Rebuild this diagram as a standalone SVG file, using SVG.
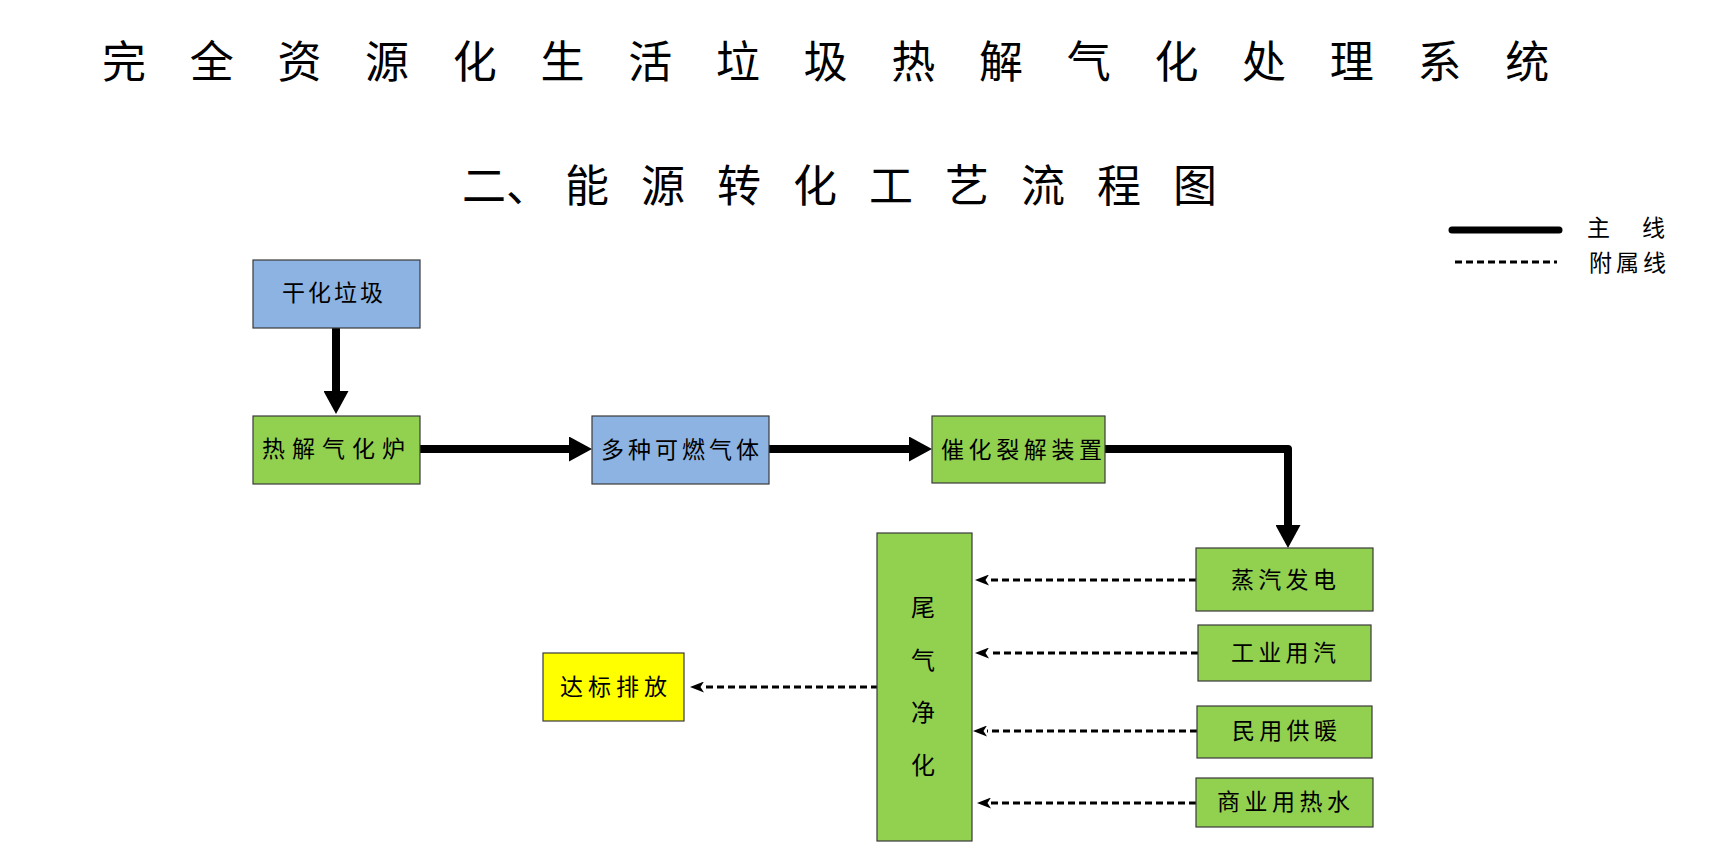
<svg xmlns="http://www.w3.org/2000/svg" width="1720" height="849" viewBox="0 0 1720 849">
<style>
text{font-family:"Liberation Sans","Noto Sans CJK SC",sans-serif;fill:#000;}
.title{font-size:44px;}
.lbl{font-size:23px;}
.box{stroke:#3a3a3a;stroke-width:1.2;}
.blue{fill:#8DB3E2;}
.green{fill:#92D050;}
.yellow{fill:#FFFF00;}
.main{fill:none;stroke:#000;stroke-width:8;stroke-linecap:round;stroke-linejoin:round;}
.aux{fill:none;stroke:#000;stroke-width:3;stroke-dasharray:7 4;}
</style>
<defs>
<marker id="big" viewBox="0 0 23 25" refX="0" refY="12.5" markerWidth="23" markerHeight="25" markerUnits="userSpaceOnUse" orient="auto">
<path d="M0,0 L23,12.5 L0,25 z" fill="#000"/>
</marker>
<marker id="small" viewBox="0 0 14 11" refX="0" refY="5.5" markerWidth="14" markerHeight="11" markerUnits="userSpaceOnUse" orient="auto">
<path d="M0,0 L14,5.5 L0,11 L3.5,5.5 z" fill="#000"/>
</marker>
</defs>
<rect width="1720" height="849" fill="#fff"/>

<g id="title">
<text class="title" x="102" y="78" letter-spacing="43.7">完全资源化生活垃圾热解气化处理系统</text>
<text class="title" x="462" y="202">二、<tspan x="565" letter-spacing="32">能源转化工艺流程图</tspan></text>
</g>

<g id="legend">
<line x1="1452" y1="230" x2="1559" y2="230" stroke="#000" stroke-width="7" stroke-linecap="round"/>
<line x1="1455" y1="262" x2="1557" y2="262" stroke="#000" stroke-width="3" stroke-dasharray="7 4"/>
<text class="lbl" x="1587" y="236">主</text>
<text class="lbl" x="1642" y="236">线</text>
<text class="lbl" x="1589" y="271" letter-spacing="4">附属线</text>
</g>

<g id="connectors">
<path class="main" d="M336,329 L336,391" marker-end="url(#big)"/>
<path class="main" d="M419,449 L569,449" marker-end="url(#big)"/>
<path class="main" d="M769,449 L909,449" marker-end="url(#big)"/>
<path class="main" d="M1105,449 L1288,449 L1288,525" marker-end="url(#big)"/>
<path class="aux" d="M1196,580 L989,580" marker-end="url(#small)"/>
<path class="aux" d="M1198,653 L989,653" marker-end="url(#small)"/>
<path class="aux" d="M1197,731 L987,731" marker-end="url(#small)"/>
<path class="aux" d="M1196,803 L991,803" marker-end="url(#small)"/>
<path class="aux" d="M878,687 L704,687" marker-end="url(#small)"/>
</g>

<g id="node-ganhua">
<rect class="box blue" x="253" y="260" width="167" height="68"/>
<text class="lbl" x="282" y="301" letter-spacing="3">干化垃圾</text>
</g>
<g id="node-rejie">
<rect class="box green" x="253" y="416" width="167" height="68"/>
<text class="lbl" x="262" y="457" letter-spacing="7">热解气化炉</text>
</g>
<g id="node-kerangas">
<rect class="box blue" x="592" y="416" width="177" height="68"/>
<text class="lbl" x="601" y="458" letter-spacing="4">多种可燃气体</text>
</g>
<g id="node-cuihua">
<rect class="box green" x="932" y="416" width="173" height="67"/>
<text class="lbl" x="941" y="458" letter-spacing="4.6">催化裂解装置</text>
</g>
<g id="node-weiqi">
<rect class="box green" x="877" y="533" width="95" height="308"/>
<text x="923" y="616" font-size="24" text-anchor="middle">尾</text>
<text x="923" y="669" font-size="24" text-anchor="middle">气</text>
<text x="923" y="721" font-size="24" text-anchor="middle">净</text>
<text x="923" y="774" font-size="24" text-anchor="middle">化</text>
</g>
<g id="node-zhengqi">
<rect class="box green" x="1196" y="548" width="177" height="63"/>
<text class="lbl" x="1231" y="588" letter-spacing="4.3">蒸汽发电</text>
</g>
<g id="node-gongye">
<rect class="box green" x="1198" y="625" width="173" height="56"/>
<text class="lbl" x="1231" y="661" letter-spacing="4.3">工业用汽</text>
</g>
<g id="node-minyong">
<rect class="box green" x="1197" y="706" width="175" height="52"/>
<text class="lbl" x="1232" y="739" letter-spacing="4.3">民用供暖</text>
</g>
<g id="node-shangye">
<rect class="box green" x="1196" y="778" width="177" height="49"/>
<text class="lbl" x="1217" y="810" letter-spacing="4.5">商业用热水</text>
</g>
<g id="node-dabiao">
<rect class="box yellow" x="543" y="653" width="141" height="68"/>
<text class="lbl" x="560" y="695" letter-spacing="5">达标排放</text>
</g>
</svg>
